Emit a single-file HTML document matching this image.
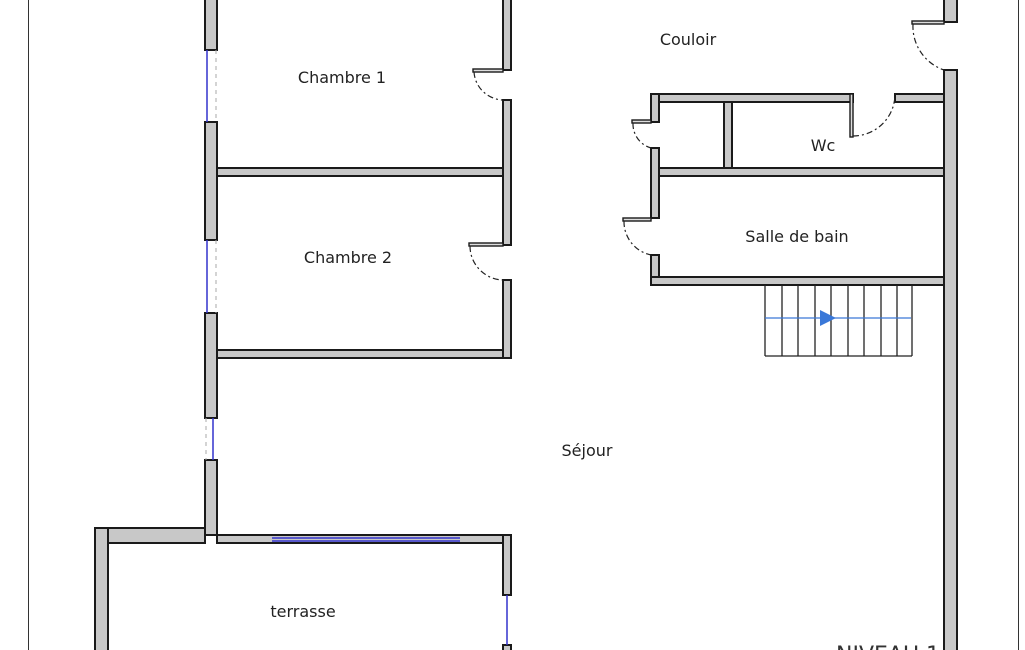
<!DOCTYPE html>
<html><head><meta charset="utf-8"><style>
html,body{margin:0;padding:0;background:#fff;width:1025px;height:650px;overflow:hidden}
svg{display:block}
text{font-family:"DejaVu Sans","Liberation Sans",sans-serif;font-size:16px;fill:#222}
</style></head><body>
<svg width="1025" height="650" viewBox="0 0 1025 650">
<g stroke="#333" stroke-width="1"><line x1="28.5" y1="0" x2="28.5" y2="650"/><line x1="1018.5" y1="0" x2="1018.5" y2="650"/></g>
<g fill="#c8c8c8" stroke="#1a1a1a" stroke-width="2">
<rect x="205" y="-2" width="12" height="52"/>
<rect x="205" y="122" width="12" height="118"/>
<rect x="205" y="313" width="12" height="105"/>
<rect x="205" y="460" width="12" height="75"/>
<rect x="503" y="-2" width="8" height="72"/>
<rect x="503" y="100" width="8" height="145"/>
<rect x="503" y="280" width="8" height="78"/>
<rect x="217" y="168" width="286" height="8"/>
<rect x="217" y="350" width="286" height="8"/>
<rect x="944" y="-2" width="13" height="24"/>
<rect x="944" y="70" width="13" height="582"/>
<rect x="651" y="94" width="202" height="8"/>
<rect x="895" y="94" width="49" height="8"/>
<rect x="651" y="94" width="8" height="28"/>
<rect x="651" y="148" width="8" height="70"/>
<rect x="651" y="255" width="8" height="30"/>
<rect x="724" y="102" width="8" height="66"/>
<rect x="659" y="168" width="285" height="8"/>
<rect x="651" y="277" width="293" height="8"/>
<rect x="95" y="528" width="110" height="15"/>
<rect x="95" y="528" width="13" height="124"/>
<rect x="217" y="535" width="294" height="8"/>
<rect x="503" y="535" width="8" height="60"/>
<rect x="503" y="645" width="8" height="7"/>
</g>
<g stroke="#3333cc" stroke-width="1.5">
<line x1="207" y1="50" x2="207" y2="122"/><line x1="207" y1="240" x2="207" y2="313"/>
<line x1="213" y1="418" x2="213" y2="460"/>
<line x1="272" y1="538" x2="460" y2="538"/><line x1="272" y1="541" x2="460" y2="541"/>
<line x1="507" y1="595" x2="507" y2="645"/>
</g>
<g stroke="#aaa" stroke-width="1" stroke-dasharray="4,4" fill="none">
<line x1="216" y1="50" x2="216" y2="122"/><line x1="216" y1="240" x2="216" y2="313"/><line x1="206" y1="418" x2="206" y2="460"/>
</g>
<g fill="#ddd" stroke="#1a1a1a" stroke-width="1.4">
<rect x="473" y="69" width="30" height="3"/>
<rect x="469" y="243" width="34" height="3"/>
<rect x="912" y="21" width="32" height="3"/>
<rect x="850" y="94" width="3" height="43"/>
<rect x="632" y="120" width="19" height="3"/>
<rect x="623" y="218" width="28" height="3"/>
</g>
<g fill="none" stroke="#222" stroke-width="1.2" stroke-dasharray="6,3,2,3">
<path d="M474 72 A30 30 0 0 0 503 100"/>
<path d="M470 246 A34 34 0 0 0 503 280"/>
<path d="M913 24 A46 46 0 0 0 944 70"/>
<path d="M853 136 A42 42 0 0 0 895 95"/>
<path d="M633 123 A25 25 0 0 0 651 148"/>
<path d="M624 221 A34 34 0 0 0 651 255"/>
</g>
<g stroke="#222" stroke-width="1.3" fill="none">
<line x1="765" y1="285" x2="765" y2="356"/><line x1="765" y1="356" x2="912" y2="356"/>
<line x1="782" y1="285" x2="782" y2="356"/><line x1="798" y1="285" x2="798" y2="356"/>
<line x1="815" y1="285" x2="815" y2="356"/><line x1="831" y1="285" x2="831" y2="356"/>
<line x1="848" y1="285" x2="848" y2="356"/><line x1="864" y1="285" x2="864" y2="356"/>
<line x1="881" y1="285" x2="881" y2="356"/><line x1="897" y1="285" x2="897" y2="356"/>
<line x1="912" y1="285" x2="912" y2="356"/>
</g>
<line x1="765" y1="318" x2="911" y2="318" stroke="#3a78d8" stroke-width="1.2"/>
<polygon points="820,310 836,318 820,326" fill="#3a78d8"/>
<text x="342" y="83" text-anchor="middle">Chambre 1</text>
<text x="348" y="263" text-anchor="middle">Chambre 2</text>
<text x="688" y="45" text-anchor="middle">Couloir</text>
<text x="823" y="151" text-anchor="middle">Wc</text>
<text x="797" y="242" text-anchor="middle">Salle de bain</text>
<text x="587" y="456" text-anchor="middle">Séjour</text>
<text x="303" y="617" text-anchor="middle">terrasse</text>
<text x="836" y="662" style="font-size:22px;fill:#333">NIVEAU 1</text>
</svg>
</body></html>
